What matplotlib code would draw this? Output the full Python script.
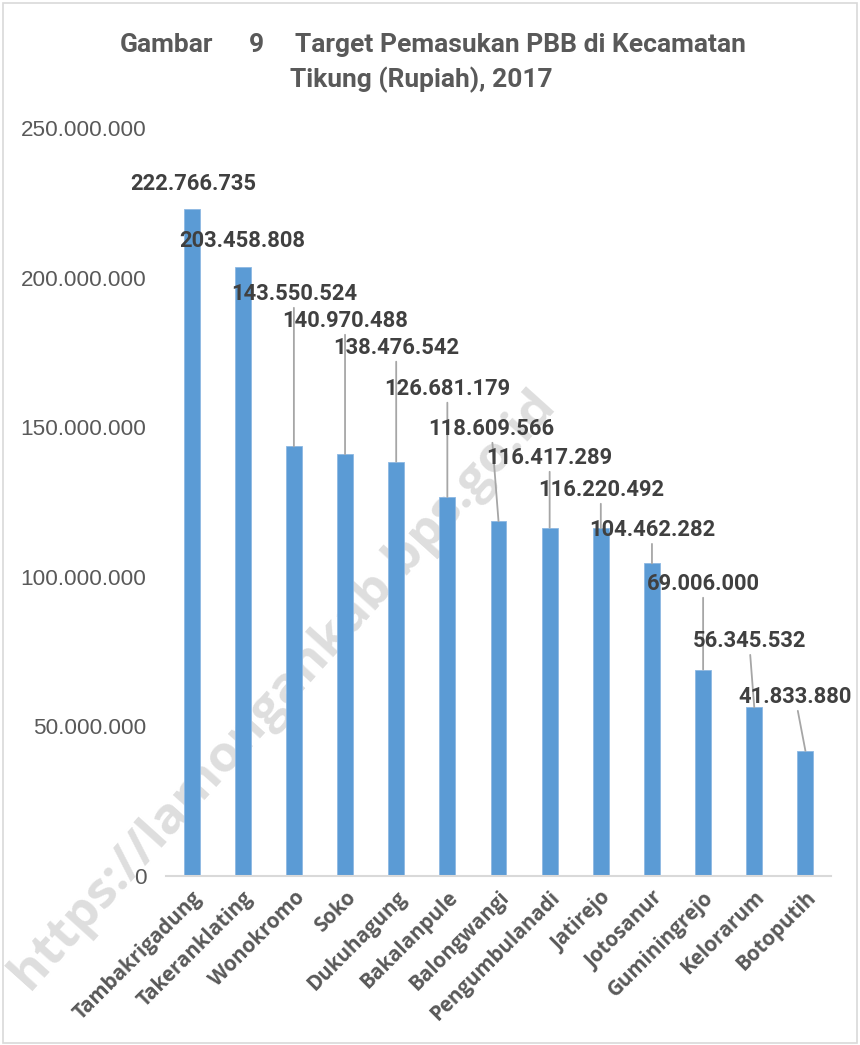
import matplotlib.pyplot as plt
from matplotlib.patches import Rectangle

# Data
kecamatan = ['Tambakrigadung', 'Takeranklating', 'Wonokromo', 'Soko', 'Dukuhagung',
             'Bakalanpule', 'Balongwangi', 'Pengumbulanadi', 'Jatirejo', 'Jotosanur',
             'Guminingrejo', 'Kelorarum', 'Botoputih']
target_pbb = [222766735, 203458808, 143550524, 140970488, 138476542, 126681179,
              118609566, 116417289, 116220492, 104462282, 69006000, 56345532, 41833880]
y_ticks = [0, 50000000, 100000000, 150000000, 200000000, 250000000]

# label placement (category offset, y position in data units)
label_dx = [0.03, 0, 0, 0, 0, 0, -0.14, 0, 0, 0, 0, -0.1, -0.2]
label_y = [231.3e6, 212.2e6, 194.5e6, 185.5e6, 176.5e6, 162.8e6, 149.4e6,
           139.7e6, 129.0e6, 115.6e6, 97.6e6, 78.5e6, 59.8e6]


def rupiah(v):
    return f'{v:,}'.replace(',', '.')


fig = plt.figure(figsize=(8.6, 10.45), dpi=100)
fig.patch.set_facecolor('white')
ax = fig.add_axes([166 / 860, 1 - 876 / 1045, 665 / 860, 748 / 1045])
ax.set_facecolor('none')

# watermark behind the bars
fig.text(283 / 860, 1 - 690 / 1045, 'https://lamongankab.bps.go.id', rotation=48,
         ha='center', va='center', fontsize=37, fontweight='bold', color='#DEDEDE',
         family=['Open Sans', 'DejaVu Sans'], zorder=-1)

x = list(range(len(kecamatan)))
ax.bar(x, target_pbb, width=0.31, color='#5B9BD5', edgecolor='#8DB8E3', linewidth=0.6,
       zorder=2)

for i, v in enumerate(target_pbb):
    tx = i + label_dx[i]
    ty = label_y[i]
    props = None
    if ty - v > 10e6:
        props = dict(arrowstyle='-', color='#A6A6A6', lw=1.3, shrinkA=0, shrinkB=0)
    ax.annotate(rupiah(v), xy=(i, v), xytext=(tx, ty), ha='center', va='center',
                fontsize=15.8, fontweight='bold', color='#404040', family='Roboto',
                arrowprops=props, zorder=4, annotation_clip=False)

ax.set_xlim(-0.5, len(kecamatan) - 0.5)
ax.set_ylim(0, 250000000)
ax.set_yticks(y_ticks)
ax.set_yticklabels([rupiah(t) for t in y_ticks], fontsize=16.2, color='#595959',
                   family='Liberation Sans')
ax.set_xticks(x)
ax.set_xticklabels(kecamatan, rotation=45, ha='right', rotation_mode='anchor',
                   fontsize=14.8, fontweight='bold', color='#595959', family='Open Sans')
ax.tick_params(axis='both', length=0)
ax.tick_params(axis='y', pad=14)
ax.tick_params(axis='x', pad=8)
for s in ['top', 'right', 'left']:
    ax.spines[s].set_visible(False)
ax.spines['bottom'].set_color('#D9D9D9')
ax.spines['bottom'].set_linewidth(1.5)

# title
title_font = dict(fontsize=19, fontweight='bold', color='#595959',
                  family='Roboto', va='center', ha='left')
fig.text(120 / 860, 1 - 45 / 1045, 'Gambar', **title_font)
fig.text(249 / 860, 1 - 45 / 1045, '9', **title_font)
fig.text(295 / 860, 1 - 45 / 1045, 'Target Pemasukan PBB di Kecamatan', **title_font)
fig.text(290 / 860, 1 - 80 / 1045, 'Tikung (Rupiah), 2017', **title_font)

# chart border
fig.patches.append(Rectangle((3 / 860, 2 / 1045), 854 / 860, 1040 / 1045,
                             transform=fig.transFigure, fill=False,
                             edgecolor='#D9D9D9', linewidth=1.2))

plt.savefig('out.png', dpi=100)
